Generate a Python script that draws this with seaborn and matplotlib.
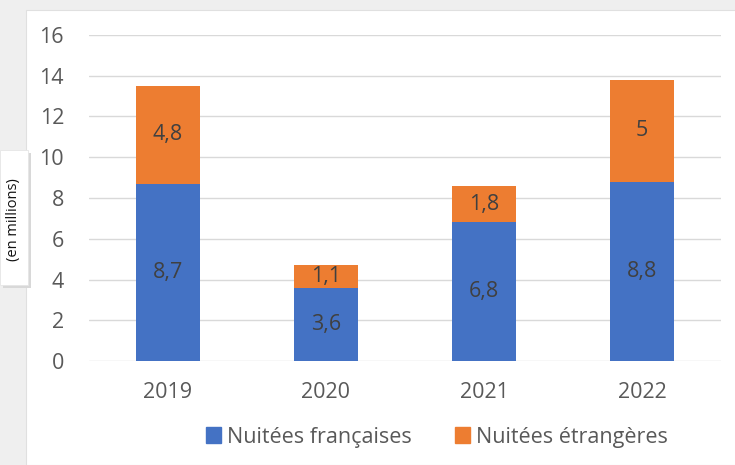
import matplotlib
matplotlib.use("Agg")
import matplotlib.pyplot as plt
import matplotlib.patches as mpatches
import seaborn as sns
import pandas as pd

years = ["2019", "2020", "2021", "2022"]
francaises = [8.7, 3.6, 6.8, 8.8]
etrangeres = [4.8, 1.1, 1.8, 5.0]
lab_fr = ["8,7", "3,6", "6,8", "8,8"]
lab_etr = ["4,8", "1,1", "1,8", "5"]

blue = "#4472C4"
orange = "#ED7D31"

sns.set_style("white")
plt.rcParams["font.family"] = ["Open Sans", "DejaVu Sans"]

data = pd.DataFrame({"annee": years, "fr": francaises, "etr": etrangeres})

fig = plt.figure(figsize=(7.35, 4.65), dpi=100, facecolor="#efefef")
# white chart panel (screenshot look)
fig.patches.append(mpatches.Rectangle((26 / 735, 0), 1, 1 - 10 / 465, transform=fig.transFigure,
                                      facecolor="white", edgecolor="#e0e0e0", lw=0.8, zorder=-2))

ax = fig.add_axes([89 / 735, 104 / 465, 632 / 735, 326 / 465])
ax.set_zorder(1)
ax.set_facecolor("white")

sns.barplot(data=data, x="annee", y="fr", color=blue, width=0.405, saturation=1, linewidth=0, ax=ax, zorder=3)
bars_etr = ax.bar(range(len(years)), data["etr"], bottom=data["fr"], width=0.405, color=orange,
                  linewidth=0, zorder=3)

ax.bar_label(ax.containers[0], labels=lab_fr, label_type="center", color="#404040", fontsize=15.5)
ax.bar_label(bars_etr, labels=lab_etr, label_type="center", color="#404040", fontsize=15.5)

ax.set_ylim(0, 16)
ax.set_yticks(range(0, 17, 2))
ax.set_xlim(-0.5, 3.5)
ax.yaxis.grid(True, color="#d9d9d9", lw=1, zorder=0)
ax.set_axisbelow(True)
for s in ax.spines.values():
    s.set_visible(False)
ax.tick_params(axis="both", length=0, labelsize=15.5, labelcolor="#595959")
ax.tick_params(axis="y", pad=18)
ax.tick_params(axis="x", pad=15)
ax.set_xlabel("")
ax.set_ylabel("")

# y label box on the left edge
fig.patches.append(mpatches.Rectangle((3 / 735, (465 - 288) / 465), 28 / 735, 135 / 465,
                                      transform=fig.transFigure, facecolor="#d8d8d8", edgecolor="none", zorder=2))
fig.patches.append(mpatches.Rectangle((0, (465 - 285) / 465), 28 / 735, 135 / 465,
                                      transform=fig.transFigure, facecolor="white", edgecolor="#e6e6e6",
                                      lw=0.6, zorder=3))
fig.text(14 / 735, (465 - 220) / 465, "(en millions)", rotation=90, ha="center", va="center",
         fontsize=10.5, color="#111111", zorder=4)

handles = [mpatches.Patch(color=blue, label="Nuitées françaises"),
           mpatches.Patch(color=orange, label="Nuitées étrangères")]
fig.legend(handles=handles, loc="center", bbox_to_anchor=(437 / 735, 1 - 437 / 465), ncol=2,
           frameon=False, fontsize=15.5, labelcolor="#595959", handlelength=0.7, handleheight=0.7,
           handletextpad=0.3, columnspacing=2.0)

fig.savefig("out.png", dpi=100, facecolor=fig.get_facecolor())
